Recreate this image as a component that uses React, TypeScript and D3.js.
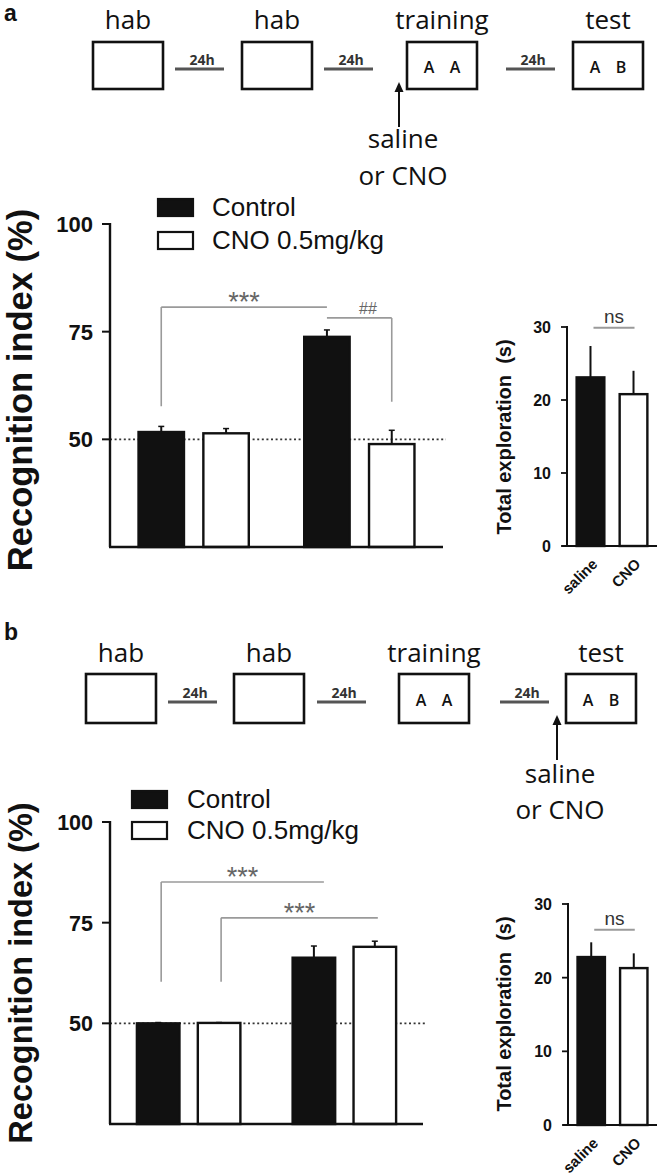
import React from 'react';
import * as d3 from 'd3';

const width = 660;
const height = 1176;

// protocol schematic
const steps = ['hab', 'hab', 'training', 'test'];
const objects = [[], [], ['A', 'A'], ['A', 'B']];
const interval = '24h';
const injection = ['saline', 'or CNO'];

// recognition index (main charts)
const sessions = ['session 1', 'session 2'];
const groups = ['Control', 'CNO 0.5mg/kg'];
const indexTicks = [50, 75, 100];
const indexDomain = [25, 100];
const chance = 50;

const indexMeanA = [[51.7, 51.4], [73.8, 48.9]];
const indexSemA = [[1.3, 1.1], [1.6, 3.2]];
const indexMeanB = [[50.0, 50.1], [66.3, 69.0]];
const indexSemB = [[0.2, 0.1], [2.9, 1.4]];

// total exploration (insets)
const treatments = ['saline', 'CNO'];
const exploreTicks = [0, 10, 20, 30];
const exploreDomain = [0, 30];
const exploreMeanA = [23.1, 20.8];
const exploreSemA = [4.3, 3.2];
const exploreMeanB = [22.8, 21.3];
const exploreSemB = [2.0, 2.0];

const sans = '"Liberation Sans", Arial, sans-serif';
const myriad = '"Open Sans", sans-serif';
const ink = '#111';
const grey = '#9a9a9a';

const Schematic = ({ L }) => (
  <g>
    <text x={L.letterX} y={L.letterY} fontFamily={sans} fontWeight="bold" fontSize={23} fill={ink}>{L.letter}</text>
    {steps.map((s, i) => (
      <g key={i}>
        <text x={L.boxX[i] + 35} y={L.labelY} textAnchor="middle" fontFamily={myriad} fontSize={26} fill={ink}>{s}</text>
        <rect x={L.boxX[i]} y={L.boxY} width={70} height={L.boxH} fill="white" stroke={ink} strokeWidth={2.6} />
        {objects[i].map((o, j) => (
          <text key={j} x={L.boxX[i] + 35 + (j === 0 ? -13 : 13)} y={L.boxY + L.boxH / 2 + 7}
            textAnchor="middle" fontFamily={myriad} fontWeight="600" fontSize={16} fill={ink}>{o}</text>
        ))}
      </g>
    ))}
    {L.lineX.map((lx, i) => (
      <g key={i}>
        <line x1={lx} x2={lx + 49} y1={L.lineY} y2={L.lineY} stroke="#555" strokeWidth={3} />
        <text x={lx + 27} y={L.lineY - 4} textAnchor="middle" fontFamily={myriad} fontWeight="700" fontSize={14} fill="#333">{interval}</text>
      </g>
    ))}
    <line x1={L.arrowX} x2={L.arrowX} y1={L.arrowBase} y2={L.arrowTip + 6} stroke={ink} strokeWidth={2} />
    <path d={`M${L.arrowX},${L.arrowTip} L${L.arrowX - 4.5},${L.arrowTip + 10} L${L.arrowX + 4.5},${L.arrowTip + 10} Z`} fill={ink} />
    {injection.map((t, i) => (
      <text key={i} x={L.injX} y={L.injY[i]} textAnchor="middle" fontFamily={myriad} fontSize={26} fill={ink}>{t}</text>
    ))}
  </g>
);

const MainChart = ({ L, means, sems, brackets }) => {
  const y = d3.scaleLinear().domain(indexDomain).range([L.bottom, L.top]);
  const x0 = d3.scaleBand().domain(sessions).range([L.left, L.right]).paddingInner(0.32).paddingOuter(0.165);
  const x1 = d3.scaleBand().domain(groups).range([0, x0.bandwidth()]).paddingInner(0.262);
  const cx = (s, g) => x0(sessions[s]) + x1(groups[g]) + x1.bandwidth() / 2;
  return (
    <g fontFamily={sans}>
      {groups.map((g, i) => (
        <g key={g}>
          <rect x={L.legX} y={L.legY[i]} width={35} height={17} fill={i === 0 ? ink : 'white'} stroke={ink} strokeWidth={2.2} />
          <text x={L.legTextX} y={L.legY[i] + 17} fontSize={26} fill={ink}>{g}</text>
        </g>
      ))}
      <text transform={`translate(${L.labelX},${L.labelCY}) rotate(-90)`} textAnchor="middle" fontWeight="bold"
        fontSize={L.labelSize} fill={ink}>Recognition index (%)</text>
      <line x1={L.left} x2={L.right + 3} y1={y(chance)} y2={y(chance)} stroke="#333" strokeWidth={1.6} strokeDasharray="2,2.6" />
      {sessions.map((s, si) => groups.map((g, gi) => {
        const m = means[si][gi];
        const e = sems[si][gi];
        const c = cx(si, gi);
        return (
          <g key={s + g}>
            <line x1={c} x2={c} y1={y(m)} y2={y(m + e)} stroke={ink} strokeWidth={2} />
            <line x1={c - 3} x2={c + 3} y1={y(m + e)} y2={y(m + e)} stroke={ink} strokeWidth={1.5} />
            <rect x={x0(s) + x1(g) + 1.2} y={y(m)} width={x1.bandwidth() - 2.4} height={y(indexDomain[0]) - y(m)}
              fill={gi === 0 ? ink : 'white'} stroke={ink} strokeWidth={2.4} />
          </g>
        );
      }))}
      {brackets.map((b, i) => {
        const xa = cx(b.from[0], b.from[1]) + (b.dxA || 0);
        const xb = cx(b.to[0], b.to[1]) + (b.dxB || 0);
        const legX = b.leg === 'left' ? xa : xb;
        return (
          <g key={i}>
            <path d={`M${xa},${y(b.level)} L${xb},${y(b.level)} M${legX},${y(b.level)} L${legX},${y(b.legEnd)}`}
              fill="none" stroke={grey} strokeWidth={1.6} />
            <text x={b.textX ? b.textX : (xa + xb) / 2} y={y(b.level) + (b.label === '##' ? -4 : 4)} textAnchor="middle"
              fontSize={b.label === '##' ? 16 : 27} fill="#666">{b.label}</text>
          </g>
        );
      })}
      <line x1={L.left} x2={L.left} y1={L.top - 1} y2={L.bottom} stroke={ink} strokeWidth={2.4} />
      <line x1={L.left - 1} x2={L.right} y1={L.bottom} y2={L.bottom} stroke={ink} strokeWidth={2.4} />
      {indexTicks.map(t => (
        <g key={t}>
          <line x1={L.left - 8} x2={L.left} y1={y(t)} y2={y(t)} stroke={ink} strokeWidth={2} />
          <text x={L.left - 17} y={y(t) + 8} textAnchor="end" fontWeight="bold" fontSize={L.tickSize} fill={ink}>{t}</text>
        </g>
      ))}
    </g>
  );
};

const Inset = ({ L, means, sems }) => {
  const y = d3.scaleLinear().domain(exploreDomain).range([L.bottom, L.top]);
  const x = d3.scaleBand().domain(treatments).range([L.left, L.right]).paddingInner(0.3).paddingOuter(0.196);
  const cx = t => x(t) + x.bandwidth() / 2;
  return (
    <g fontFamily={sans}>
      <text transform={`translate(${L.labelX},${L.labelCY}) rotate(-90)`} textAnchor="middle" fontWeight="bold"
        fontSize={20} fill={ink} style={{ whiteSpace: 'pre' }}>{'Total exploration  (s)'}</text>
      {treatments.map((t, i) => (
        <g key={t}>
          <line x1={cx(t)} x2={cx(t)} y1={y(means[i])} y2={y(means[i] + sems[i])} stroke={ink} strokeWidth={2} />
          <rect x={x(t) + 1.2} y={y(means[i])} width={x.bandwidth() - 2.4} height={y(0) - y(means[i])}
            fill={i === 0 ? ink : 'white'} stroke={ink} strokeWidth={2.4} />
          <text transform={`translate(${cx(t) + 8},${L.bottom + 19}) rotate(-45)`} textAnchor="end"
            fontWeight="bold" fontSize={15} fill={ink}>{t}</text>
        </g>
      ))}
      <line x1={cx(treatments[0]) + 3} x2={cx(treatments[1]) + 1} y1={y(L.nsLevel)} y2={y(L.nsLevel)} stroke={grey} strokeWidth={2} />
      <text x={(cx(treatments[0]) + cx(treatments[1])) / 2 + 2} y={y(L.nsLevel) - 5} textAnchor="middle" fontSize={19} fill="#333">ns</text>
      <line x1={L.left} x2={L.left} y1={L.top - 1} y2={L.bottom} stroke={ink} strokeWidth={2} />
      <line x1={L.left - 5} x2={L.right} y1={L.bottom} y2={L.bottom} stroke={ink} strokeWidth={2.2} />
      {exploreTicks.map(t => (
        <g key={t}>
          <line x1={L.left - 6} x2={L.left} y1={y(t)} y2={y(t)} stroke={ink} strokeWidth={1.8} />
          <text x={L.left - 16} y={y(t) + 6} textAnchor="end" fontWeight="bold" fontSize={16} fill={ink}>{t}</text>
        </g>
      ))}
    </g>
  );
};

const schemA = {
  letter: 'a', letterX: 4, letterY: 21, labelY: 29, boxX: [93, 242, 407, 573], boxY: 42, boxH: 47,
  lineX: [175, 324, 506], lineY: 69, arrowX: 399, arrowTip: 82, arrowBase: 127, injX: 403, injY: [148, 185],
};
const schemB = {
  letter: 'b', letterX: 4, letterY: 640, labelY: 662, boxX: [86, 234, 399, 566], boxY: 674, boxH: 49,
  lineX: [168, 317, 500], lineY: 702, arrowX: 557, arrowTip: 715, arrowBase: 760, injX: 560, injY: [783, 819],
};

const mainA = {
  left: 110, right: 443, top: 224, bottom: 547, labelX: 32, labelCY: 390, labelSize: 34.5, tickSize: 22,
  legX: 158, legY: [199, 232], legTextX: 212,
};
const mainB = {
  left: 110, right: 423, top: 822, bottom: 1124, labelX: 32, labelCY: 973, labelSize: 32.5, tickSize: 21.5,
  legX: 132, legY: [791, 822], legTextX: 187,
};

const bracketsA = [
  { from: [0, 0], to: [1, 0], level: 80.7, legEnd: 57.7, leg: 'left', label: '***' },
  { from: [1, 0], to: [1, 1], level: 78.2, legEnd: 58.7, leg: 'right', label: '##', textX: 368 },
];
const bracketsB = [
  { from: [0, 0], to: [1, 0], level: 85.1, legEnd: 60.3, leg: 'left', label: '***', dxA: 3, dxB: 10 },
  { from: [0, 1], to: [1, 1], level: 76.2, legEnd: 60.3, leg: 'left', label: '***', dxA: 2, dxB: 3 },
];

const insetA = { left: 567, right: 657, top: 327, bottom: 546, labelX: 511, labelCY: 437, nsLevel: 29.9 };
const insetB = { left: 568, right: 657, top: 904, bottom: 1125, labelX: 511, labelCY: 1014, nsLevel: 26.5 };

export default function App() {
  return (
    <svg width={width} height={height} style={{ position: 'absolute', left: 0, top: 0, background: 'white' }}>
      <rect width={width} height={height} fill="white" />
      <Schematic L={schemA} />
      <MainChart L={mainA} means={indexMeanA} sems={indexSemA} brackets={bracketsA} />
      <Inset L={insetA} means={exploreMeanA} sems={exploreSemA} />
      <Schematic L={schemB} />
      <MainChart L={mainB} means={indexMeanB} sems={indexSemB} brackets={bracketsB} />
      <Inset L={insetB} means={exploreMeanB} sems={exploreSemB} />
    </svg>
  );
}
